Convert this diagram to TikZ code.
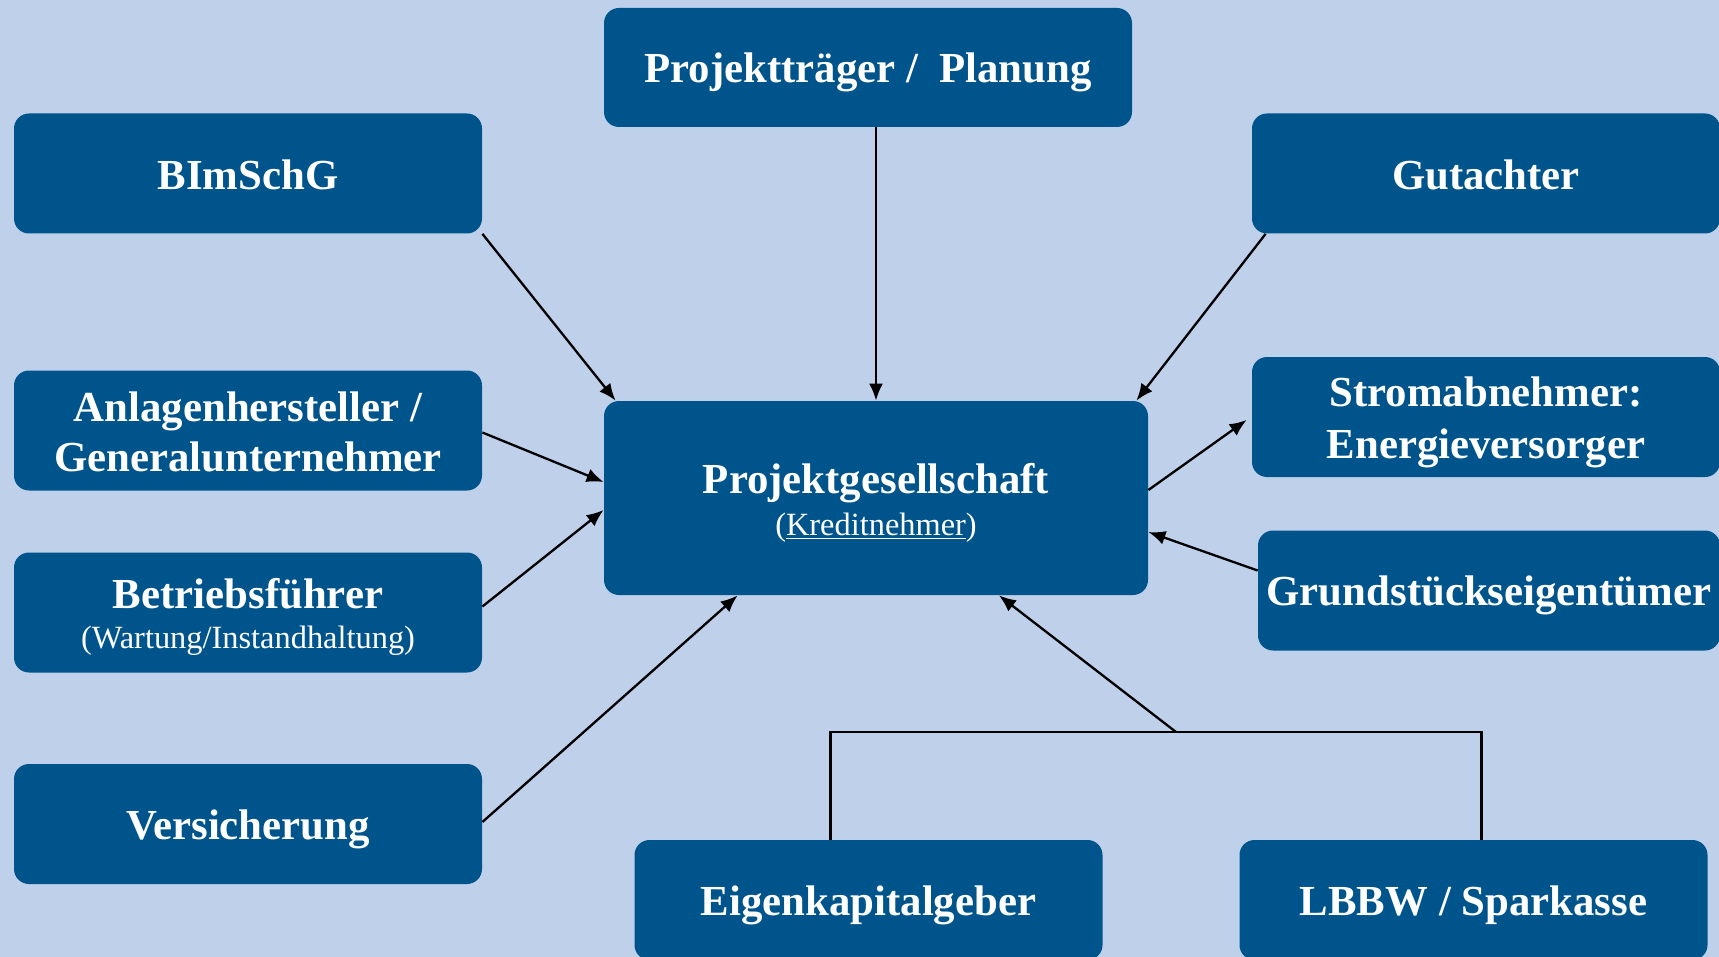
\documentclass[tikz,border=0pt]{standalone}
\usepackage{fontspec}
\setmainfont{Liberation Serif}
\usepackage{tikz}
\usetikzlibrary{arrows.meta}

\definecolor{pagebg}{RGB}{190,208,234}
\definecolor{boxblue}{RGB}{0,84,140}
\newcommand\upstrut{\rule{0pt}{20pt}}
\newcommand\dnstrut{\rule[-4pt]{0pt}{4pt}}

\begin{document}
\begin{tikzpicture}[x=0.5pt,y=-0.5pt,
  party/.style={fill=boxblue, rounded corners=7.5pt, text=white, align=center,
    inner sep=0pt, minimum width=234pt, minimum height=60pt,
    font=\bfseries\fontsize{21.4}{25}\selectfont},
  link/.style={line width=1.15pt, -{Latex[length=8.5pt,width=7pt]}},
  joint/.style={line width=1.3pt}]
\path[use as bounding box, clip] (0,0) rectangle (1719,957);
\fill[pagebg] (0,0) rectangle (1719,957);

\node[party, minimum width=264pt, minimum height=59.5pt] (traeger) at (868,67.5) {\upstrut Projektträger /\ \ Planung\dnstrut};
\node[party] (bimschg) at (248,173.5) {\upstrut BImSchG\dnstrut};
\node[party] (gutachter) at (1486,173.5) {\upstrut Gutachter\dnstrut};
\node[party] (anlagen) at (248,430.5) {\upstrut Anlagenhersteller /\\Generalunternehmer\dnstrut};
\node[party] (betrieb) at (248,612.5) {\upstrut Betriebsführer\\[-5pt]{\mdseries\fontsize{16.2}{19}\selectfont (Wartung/Instandhaltung)}\dnstrut};
\node[party] (versich) at (248,824) {\upstrut Versicherung\dnstrut};
\node[party, minimum width=272pt, minimum height=97pt] (projekt) at (876,498) {\upstrut Projektgesellschaft\\[-4pt]{\mdseries\fontsize{16.2}{19}\selectfont (\underline{Kreditnehmer})}\dnstrut};
\node[party] (strom) at (1486,417) {\upstrut Stromabnehmer:\\[1pt]Energieversorger\dnstrut};
\node[party, minimum width=231pt] (grund) at (1489,590.5) {\upstrut Grundstückseigentümer\dnstrut};
\node[party] (eigenkap) at (868.5,900) {\upstrut Eigenkapitalgeber\dnstrut};
\node[party] (lbbw) at (1473.5,900) {\upstrut LBBW / Sparkasse\dnstrut};

\draw[link] (bimschg.south east) -- ([xshift=6pt]projekt.north west);
\draw[link] (traeger.south -| projekt.north) -- (projekt.north);
\draw[link] ([xshift=7pt]gutachter.south west) -- ([xshift=-6pt]projekt.north east);
\draw[link] ([yshift=-1pt]anlagen.east) -- ([yshift=8pt]projekt.west);
\draw[link] ([yshift=3pt]betrieb.east) -- ([yshift=-6pt]projekt.west);
\draw[link] ([yshift=1pt]versich.east) -- ([xshift=67pt]projekt.south west);
\draw[link] ([yshift=4pt]projekt.east) -- ([xshift=-2.5pt,yshift=-1.5pt]strom.west);
\draw[link] ([yshift=10pt]grund.west) -- ([yshift=-17pt]projekt.east);

\coordinate (fork) at (1176,732);
\coordinate (ekup) at ([xshift=-19pt]eigenkap.north);
\coordinate (lbup) at ([xshift=4pt]lbbw.north);
\draw[joint] (ekup) |- (fork) -| (lbup);
\draw[link] (fork) -- ([xshift=61.5pt]projekt.south);
\end{tikzpicture}
\end{document}
